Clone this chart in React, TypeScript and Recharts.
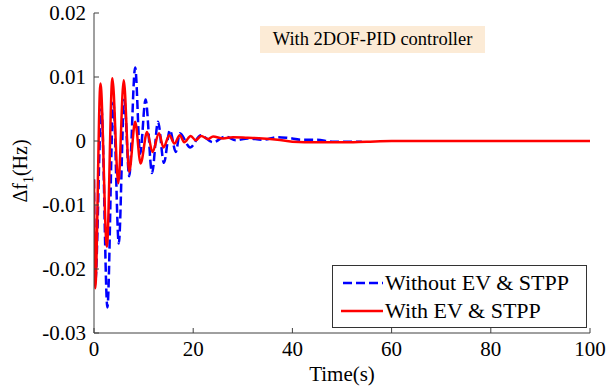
import React from 'react';
import { LineChart, Line, XAxis, YAxis, Legend } from 'recharts';

// Time (s) and Δf1 (Hz) readings – "With EV & STPP" (red, solid)
const redTime = [0, 0.25, 1.3, 2.6, 3.7, 4.9, 6.0, 7.1, 8.3, 9.4, 10.7, 11.8, 13.1, 14.0, 15.2, 16.2, 17.3, 18.2, 19.5, 20.5, 21.6, 23, 24, 26, 28, 31, 34, 37, 40, 45, 50, 55, 60, 100];
const redValue = [-0.006, -0.023, 0.009, -0.0165, 0.0098, -0.0066, 0.0095, -0.0048, 0.003, -0.0035, 0.0014, -0.0017, 0.0012, -0.001, 0.0009, -0.0004, 0.0009, -0.0002, 0.0008, 0.0001, 0.0008, 0.0003, 0.0007, 0.0004, 0.0006, 0.0005, 0.0004, 0.0002, -0.0001, -0.0002, -0.0002, -0.0001, 0, 0];

// "Without EV & STPP" (blue, dashed)
const blueTime = [0, 0.25, 1.5, 2.7, 3.9, 5.0, 6.1, 7.1, 8.3, 9.3, 10.4, 11.7, 12.9, 14.1, 15.3, 16.5, 17.3, 19.4, 21.5, 24, 26.5, 28.6, 31, 34, 37, 39, 42, 45, 48, 54];
const blueValue = [-0.006, -0.022, 0.005, -0.026, 0.006, -0.016, 0.0065, -0.0055, 0.0115, -0.002, 0.0065, -0.005, 0.003, -0.0034, 0.0017, -0.0017, 0.0012, -0.001, 0.0009, -0.0002, 0.0007, 0.0001, 0.0004, 0.0002, 0.0006, 0.0005, 0.0002, 0.0002, -0.0001, -0.0001];

const xTicks = [0, 20, 40, 60, 80, 100];
const yTicks = [-0.03, -0.02, -0.01, 0, 0.01, 0.02];

const seriesNames = ['Without EV & STPP', 'With EV & STPP'];
const seriesColors = ['#0000ff', '#ff0000'];
const annotationText = 'With 2DOF-PID controller';

const redData = redTime.map((t, i) => ({ t, v: redValue[i] }));
const blueData = blueTime.map((t, i) => ({ t, v: blueValue[i] }));

const FONT = '"Liberation Serif", "Times New Roman", serif';
const AXIS = '#404040';

const fmt = (v: number) => (v === 0 ? '0' : String(v));

const XTick = (props: any) => {
  const { x, y, payload } = props;
  return (
    <text x={x} y={y} dy="0.71em" textAnchor="middle" fill="#000" fontSize={21} style={{ fontFamily: FONT }}>
      {fmt(payload.value)}
    </text>
  );
};

const YTick = (props: any) => {
  const { x, y, payload } = props;
  return (
    <text x={x} y={y} dy="0.355em" textAnchor="end" fill="#000" fontSize={21} style={{ fontFamily: FONT }}>
      {fmt(payload.value)}
    </text>
  );
};

const YLabel = () => (
  <text
    x={27}
    y={171}
    transform="rotate(-90 27 171)"
    textAnchor="middle"
    style={{ fontFamily: FONT }}
    fontSize={20}
    fill="#000"
  >
    Δf
    <tspan dy={6} fontSize={14}>1</tspan>
    <tspan dy={-6}>(Hz)</tspan>
  </text>
);

const LegendBox = () => (
  <div
    style={{
      width: 253,
      height: 61,
      border: '1px solid #333',
      background: '#fff',
      fontFamily: FONT,
      fontSize: 22,
      color: '#000',
      boxSizing: 'content-box',
    }}
  >
    {seriesNames.map((name, i) => (
      <div key={name} style={{ display: 'flex', alignItems: 'center', height: 28, marginTop: i === 0 ? 3 : 0 }}>
        <svg width={52} height={10} style={{ display: 'block' }}>
          <line
            x1={i === 0 ? 10 : 8}
            x2={50}
            y1={5}
            y2={5}
            stroke={seriesColors[i]}
            strokeWidth={2.5}
            strokeDasharray={i === 0 ? '9 4' : undefined}
          />
        </svg>
        <span style={{ whiteSpace: 'nowrap' }}>{name}</span>
      </div>
    ))}
  </div>
);

export default function App() {
  return (
    <div style={{ position: 'absolute', left: 0, top: 0, width: 606, height: 387, background: '#fff', fontFamily: FONT }}>
      <LineChart
        width={606}
        height={387}
        margin={{ top: 13, right: 16, bottom: 0, left: 0 }}
        style={{ fontFamily: FONT }}
      >
        <XAxis
          xAxisId="b"
          type="number"
          dataKey="t"
          domain={[0, 100]}
          ticks={xTicks}
          height={54}
          allowDataOverflow
          tickSize={-5}
          tickMargin={13}
          stroke={AXIS}
          tick={<XTick />}
          tickLine={{ stroke: AXIS }}
          axisLine={{ stroke: AXIS }}
          label={{ value: 'Time(s)', position: 'insideBottom', offset: 6, fill: '#000', fontSize: 21, fontFamily: FONT }}
        />
        <XAxis
          xAxisId="t"
          orientation="top"
          type="number"
          dataKey="t"
          domain={[0, 100]}
          ticks={xTicks}
          height={0}
          allowDataOverflow
          tickSize={-5}
          stroke={AXIS}
          tick={() => <g />}
          tickLine={{ stroke: AXIS }}
          axisLine={{ stroke: AXIS }}
        />
        <YAxis
          yAxisId="l"
          type="number"
          domain={[-0.03, 0.02]}
          ticks={yTicks}
          width={94}
          allowDataOverflow
          tickSize={-5}
          tickMargin={13}
          stroke={AXIS}
          tick={<YTick />}
          tickLine={{ stroke: AXIS }}
          axisLine={{ stroke: AXIS }}
          label={<YLabel />}
        />
        <YAxis
          yAxisId="r"
          orientation="right"
          type="number"
          domain={[-0.03, 0.02]}
          ticks={yTicks}
          width={0}
          allowDataOverflow
          tickSize={-5}
          stroke={AXIS}
          tick={() => <g />}
          tickLine={{ stroke: AXIS }}
          axisLine={{ stroke: AXIS }}
        />
        <Legend
          layout="horizontal"
          verticalAlign="middle"
          align="center"
          wrapperStyle={{ position: 'absolute', left: 332, top: 265, width: 255, height: 63 }}
          content={() => <LegendBox />}
        />
        <Line
          xAxisId="b"
          yAxisId="l"
          data={blueData}
          dataKey="v"
          name={seriesNames[0]}
          type="monotone"
          stroke={seriesColors[0]}
          strokeWidth={2.5}
          strokeDasharray="9 4"
          dot={false}
          activeDot={false}
          isAnimationActive={false}
        />
        <Line
          xAxisId="b"
          yAxisId="l"
          data={redData}
          dataKey="v"
          name={seriesNames[1]}
          type="monotone"
          stroke={seriesColors[1]}
          strokeWidth={2.5}
          dot={false}
          activeDot={false}
          isAnimationActive={false}
        />
      </LineChart>
      <div
        style={{
          position: 'absolute',
          left: 260,
          top: 26,
          width: 225,
          height: 27,
          lineHeight: '27px',
          background: '#fcebd6',
          fontFamily: FONT,
          fontSize: 18.5,
          color: '#000',
          textAlign: 'center',
          whiteSpace: 'nowrap',
        }}
      >
        {annotationText}
      </div>
    </div>
  );
}
